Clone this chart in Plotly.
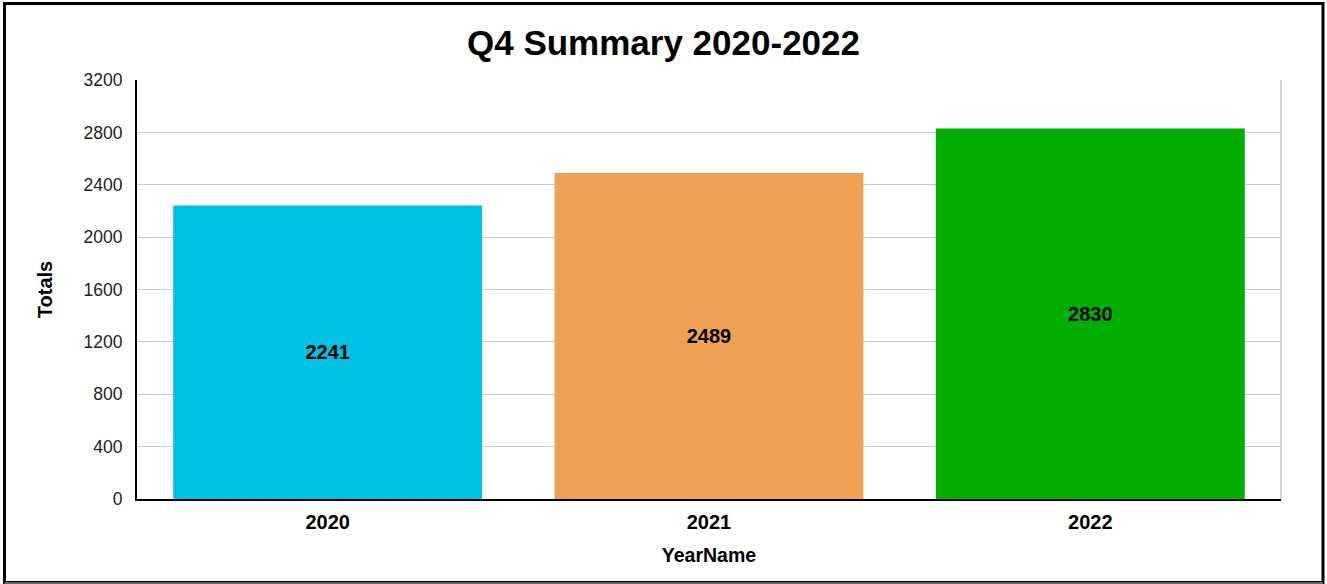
import plotly.graph_objects as go

years = ["2020", "2021", "2022"]
totals = [2241, 2489, 2830]
colors = ["#00C0E4", "#F0A254", "#00AF00"]
y_ticks = [0, 400, 800, 1200, 1600, 2000, 2400, 2800, 3200]

W, H = 1327, 584
ml, mr, mt, mb = 137, 46, 80, 85
pw, ph = W - ml - mr, H - mt - mb
FONT = "Liberation Sans, Arial, sans-serif"


def px_x(x):
    return (x - ml) / pw


def px_y(y):
    return (H - mb - y) / ph


fig = go.Figure(go.Bar(
    x=years, y=totals, marker=dict(color=colors, line=dict(width=0)),
    text=[str(v) for v in totals], textposition="inside", insidetextanchor="middle",
    textfont=dict(family=FONT, size=20, color="black", weight="bold"),
    hoverinfo="skip",
))

fig.update_layout(
    width=W, height=H,
    margin=dict(l=ml, r=mr, t=mt, b=mb),
    paper_bgcolor="white", plot_bgcolor="white",
    bargap=0.19,
    font=dict(family=FONT, color="#222"),
    title=dict(text="<b>Q4 Summary 2020-2022</b>", x=0.5, xanchor="center",
               y=1 - 43 / H, yanchor="middle",
               font=dict(size=35, color="black", family=FONT)),
    xaxis=dict(
        showgrid=False, showline=True, linecolor="black", linewidth=2,
        tickfont=dict(size=20, color="black", weight="bold"),
        title=dict(text="<b>YearName</b>", font=dict(size=19.5, color="black"), standoff=16),
        ticks="outside", ticklen=4, tickcolor="rgba(0,0,0,0)",
    ),
    yaxis=dict(
        range=[0, 3200], tickvals=y_ticks, showgrid=True, gridcolor="#cccccc", gridwidth=1,
        showline=True, linecolor="black", linewidth=2, zeroline=False,
        tickfont=dict(size=17.5, color="#222"),
        title=dict(text="<b>Totals</b>", font=dict(size=20, color="black"), standoff=26),
        ticks="outside", ticklen=9, tickcolor="rgba(0,0,0,0)",
    ),
    showlegend=False,
)

# right plot border
fig.add_shape(type="line", xref="paper", yref="paper", x0=1, x1=1, y0=0, y1=1,
              line=dict(color="#c8c8c8", width=1.5))
# outer frame
fig.add_shape(type="rect", xref="paper", yref="paper",
              x0=px_x(4.5), x1=px_x(1323), y0=px_y(582.5), y1=px_y(3.5),
              line=dict(color="black", width=3), layer="above")
fig.add_shape(type="line", xref="paper", yref="paper",
              x0=px_x(4.5), x1=px_x(1323), y0=px_y(583), y1=px_y(583),
              line=dict(color="#666666", width=2), layer="above")

fig.write_html("out.html", config={"displayModeBar": False},
               post_script="document.body.style.margin='0';document.body.style.overflow='hidden';")
